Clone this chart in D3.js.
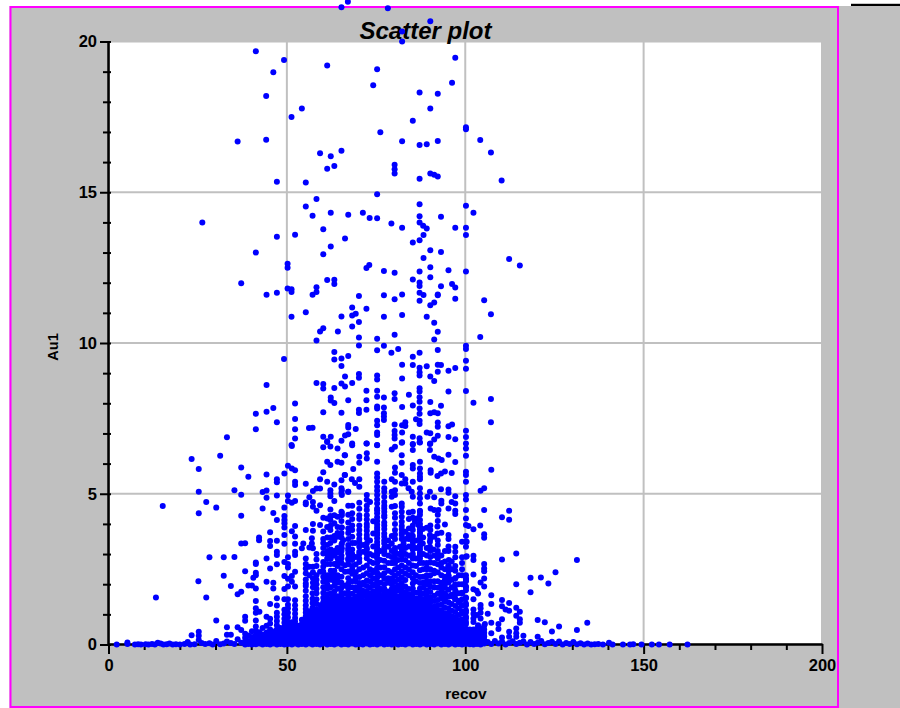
<!DOCTYPE html>
<html>
<head>
<meta charset="utf-8">
<script src="https://cdn.jsdelivr.net/npm/d3@7"></script>
<style>
  html, body { margin: 0; padding: 0; background: #fff; }
  svg { display: block; }
  text { font-family: "Liberation Sans", Arial, sans-serif; font-weight: bold; fill: #000; }
</style>
</head>
<body>
<svg id="chart" width="900" height="708"></svg>
<script>
// values: [recov, Au1]
var upperPoints = [[67.1,21.32],[65.3,21.14],[78.3,21.1],[90.2,20.67],[82.3,20.33],[82.3,20],[41.3,19.68],[49.2,19.39],[61.3,19.2],[46.2,18.98],[97.2,19.46],[75.3,19.08],[74.2,18.55],[96.3,18.63],[87.2,18.31],[92.3,18.27],[44.2,18.19],[54.2,17.78],[51.3,17.5],[90.2,17.78],[85.3,17.37],[100.2,17.16],[100.2,17.09],[76.2,16.99],[36.2,16.68],[44.2,16.74],[65.3,16.38],[59.3,16.29],[62.3,16.19],[61.3,15.78],[63.3,15.87],[104.2,16.73],[82.3,16.69],[87.2,16.57],[89.2,16.59],[92.3,16.7],[107.2,16.32],[80.2,15.91],[80.2,15.76],[80.2,15.62],[90.2,15.62],[91.3,15.58],[92.3,15.52],[87.2,15.45],[110.2,15.39],[47.2,15.35],[55.3,15.32],[75.3,14.93],[58.3,14.78],[87.2,14.6],[100.2,14.55],[55.3,14.53],[102.3,14.32],[71.3,14.32],[62.3,14.32],[67.2,14.25],[57.2,14.22],[73.2,14.15],[75.3,14.14],[87.2,14.2],[93.2,14.19],[87.2,14],[79.3,13.96],[88.2,13.89],[82.3,13.82],[89.2,13.8],[97.2,13.82],[100.2,13.82],[60.2,13.77],[26.3,14]];

var upperMiddlePoints = [[52.3,13.59],[47.2,13.52],[66.3,13.47],[62.3,13.2],[41.3,13],[60.2,12.94],[50.2,12.63],[50.2,12.5],[72.3,12.49],[73.1,12.59],[61.3,12.09],[63.3,12.1],[63.3,11.96],[37.2,11.98],[58.3,11.85],[50.2,11.81],[51.3,11.78],[51.3,11.69],[58.3,11.69],[57.2,11.6],[44.3,11.6],[47.2,11.67],[70.2,11.56],[68.3,11.18],[72.3,11.14],[69.3,10.97],[68.3,10.91],[65.3,10.88],[55.3,11.02],[51.3,10.87],[70.2,10.7],[68.3,10.55],[60.2,10.49],[59.3,10.38],[64.3,10.38],[70.2,10.18],[58.3,10.08],[70.2,9.92],[63.3,9.7],[63.3,9.45],[65.3,9.49],[67.2,9.57],[49.2,9.47],[65.3,9.24],[66.3,8.89],[70.2,8.97],[70.2,8.85],[58.3,8.67],[60.2,8.64],[60.2,8.49],[44.3,8.61],[63.3,8.51],[65.3,8.66],[66.3,8.56],[68.3,8.67],[72.3,8.42],[62.3,8.19],[62.3,8.09],[63.3,8.01],[67.2,8.1],[72.3,8.1],[52.3,7.99],[46.2,7.84],[44.3,7.72],[41.3,7.65],[60.2,7.7],[65.3,7.69],[70.2,7.79],[70.2,7.68],[72.3,7.79],[52.3,7.48],[47.2,7.37],[41.3,7.14],[52.3,7.14],[56.2,7.18],[57.2,7.19],[67.2,7.28],[67.2,7.2],[69.3,7.15],[33.2,6.87],[52.3,6.83],[60.2,6.89],[62.3,6.89],[61.3,6.74],[66.3,6.93],[67.2,6.97],[65.3,6.76],[68.3,6.67],[72.3,6.67],[51.3,6.62],
[100.2,13.58],[88.3,13.58],[87.2,13.41],[85.3,13.33],[90.2,13.08],[93.2,13.02],[88.3,12.82],[112.3,12.79],[115.3,12.57],[77.2,12.39],[80.2,12.33],[87.2,12.37],[90.2,12.51],[95.3,12.41],[100.2,12.37],[85.3,12.11],[90.2,12.18],[87.2,12.01],[87.2,11.89],[93.2,11.88],[96.3,11.96],[97.2,11.84],[87.2,11.67],[88.3,11.59],[92.3,11.61],[92.3,11.58],[82.3,11.61],[77.2,11.58],[80.2,11.45],[97.2,11.47],[105.3,11.42],[87.2,11.4],[91.3,11.34],[90.2,11.25],[107.2,10.95],[82.3,10.93],[77.2,10.87],[89.2,10.87],[91.3,10.67],[92.3,10.37],[80.2,10.27],[104.2,10.2],[75.3,10.14],[91.3,10.12],[100.2,9.91],[100.2,9.8],[77.2,9.91],[75.3,9.76],[81.2,9.8],[79.3,9.68],[87.2,9.68],[92.3,9.77],[85.3,9.54],[100.2,9.41],[82.3,9.28],[85.3,9.27],[89.2,9.23],[92.3,9.28],[93.2,9.27],[87.2,9.18],[97.2,9.17],[100.2,9.15],[95.3,9.08],[92.3,9.05],[87.2,9.03],[87.2,8.92],[75.3,8.92],[75.3,8.79],[82.3,8.82],[90.2,8.89],[91.3,8.74],[75.3,8.42],[87.2,8.5],[87.2,8.39],[95.3,8.39],[100.2,8.41],[80.2,8.33],[84.2,8.28],[75.3,8.22],[77.2,8.19],[80.2,8.14],[87.2,8.2],[87.2,8.05],[107.2,8.14],[102.3,8.02],[90.2,8.04],[85.3,7.93],[93.2,7.92],[82.3,7.88],[75.3,7.89],[75.3,7.83],[77.2,7.86],[87.2,7.83],[90.2,7.67],[91.3,7.7],[92.3,7.67],[77.2,7.67],[87.2,7.65],[77.2,7.56],[77.2,7.45],[86.2,7.47],[87.2,7.42],[87.2,7.31],[75.3,7.42],[75.3,7.27],[80.2,7.3],[82.3,7.27],[83.2,7.37],[83.2,7.25],[92.3,7.36],[92.3,7.22],[95.3,7.24],[96.3,7.3],[107.2,7.37],[100.2,7.09],[100.2,6.88],[75.3,7.03],[75.3,6.95],[80.2,7.08],[80.2,6.95],[80.2,6.83],[82.3,7.03],[89.2,7.03],[90.2,7.01],[92.3,6.92],[91.3,6.8],[85.3,6.89],[87.2,6.84],[87.2,6.71],[95.3,6.88],[97.2,6.81],[100.2,6.67],[75.3,6.62],[82.3,6.71],[85.3,6.65],[90.2,6.67]];

var leftLowerPoints = [[23.3,6.15],[31.3,6.26],[25.3,5.82],[37.2,5.87],[39.2,5.56],[50.3,5.93],[51.4,5.84],[52.3,5.78],[49.3,5.67],[44.3,5.64],[47.2,5.48],[47.2,5.38],[52.3,5.4],[52.3,5.29],[55.3,5.33],[51.4,6.58],[59.3,5.48],[60.2,5.71],[61.3,5.4],[63.3,5.31],[65.3,5.45],[60.2,6.54],[61.3,6.72],[62.2,6.57],[64.2,6.5],[66.2,6.28],[61.3,6.06],[62.2,5.95],[64.2,6.06],[65.3,6.03],[66.2,5.62],[25.3,5.07],[35.3,5.12],[37.2,4.97],[43.2,5.06],[44.3,5.11],[44.3,4.87],[47.2,4.94],[50.3,4.94],[50.3,4.76],[51.4,4.7],[52.3,4.76],[55.3,4.71],[55.3,4.65],[57.3,5.09],[58.3,5.17],[59.3,5.17],[62.2,5.12],[62.2,5.01],[62.2,4.92],[65.3,5.18],[65.3,5.03],[67.2,5.07],[56.3,4.88],[57.3,4.73],[57.3,4.57],[58.3,4.44],[59.3,4.62],[63.3,4.76],[62.2,4.48],[15.2,4.59],[27.4,4.73],[30.2,4.54],[25.3,4.35],[43.2,4.51],[46.2,4.36],[49.3,4.54],[37.2,4.27],[47.2,4.13],[49.3,4.26],[49.3,4.13],[49.3,4.02],[49.3,3.88],[45.3,3.72],[52.3,3.93],[51.4,3.76],[49.3,3.63],[55.3,3.8],[57.3,4],[59.3,3.96],[60.2,4.2],[61.3,4.18],[62.2,4.13],[63.3,4.29],[64.2,4.24],[65.3,4.4],[62.2,4.26],[62.2,3.8],[63.3,4.02],[64.2,3.9],[65.3,3.88],[57.3,3.77],[64.2,3.57],[65.8,3.46],[42.2,3.55],[42.2,3.46],[47.2,3.44],[45.3,3.43],[45.3,3.27],[49.3,3.34],[52.3,3.58],[52.3,3.34],[57,3.52],[57,3.35],[54.6,3.35],[56.3,3.22],[54.2,3.19],[57.3,3.19],[61.3,3.1],[60.2,3.37],[62.2,3.37],[60.2,3.02],[37.2,3.35],[38.3,3.36],[47.2,3.08],[47.2,2.97],[52.3,3.08],[52.3,2.97],[28.3,2.89],[32.3,2.89],[35.3,2.9],[44.3,2.85],[50.3,2.89],[49.3,2.74],[50.3,2.67],[41.3,2.72],[41.3,2.67],[47.2,2.66],[45.3,2.52],[55.3,2.85],[55.3,2.67],[55.3,2.52],[56.3,2.58],[58.3,2.82],[60.2,2.74],[61.3,2.67],[63.3,2.67],[64.2,2.85],[65.3,2.85],[67.2,3.13],[67.2,2.85],[66.3,2.63],[50.3,2.55],[41.3,2.38],[41.3,2.3],[38.3,2.43],[52.3,2.41],[55.3,2.16],[56.3,2.3],[57.3,2.58],[59.3,2.41],[62.2,2.67],[63.3,2.3],[64.2,2.3],[66.3,2.41],[25.2,2.1],[32.3,2.28],[40.6,2.21],[49.3,2.27],[50.3,2.18],[51.4,2.27],[51.4,2.08],[44.3,2.08],[46.2,2.05],[34.3,1.94],[39.2,1.96],[40.2,1.96],[41.3,1.86],[37.2,1.75],[36.2,1.67],[46.2,1.86],[49.3,1.84],[50.3,1.92],[52.3,1.92],[13.3,1.56],[27.4,1.56],[47.2,1.53],[41.3,1.44],[50.3,1.5],[52.3,1.47],[45.3,1.34],[47.2,1.29],[49.3,1.5],[41.3,1.2],[41.3,1.05],[42.3,1.09],[44.3,.92],[38.3,.92],[38.3,.79],[30.2,.8],[33.2,.57],[36.2,.57],[37.2,.48],[25.3,.42],[25.3,.29],[23.3,.31],[33.2,.32],[34.3,.32]];

var rightLowerPoints = [[107.3,5.8],[100.2,6.5],[100.2,6.26],[100.2,5.73],[100.2,5.62],[100.2,5.4],[100.2,4.96],[100.2,4.81],[100.2,4.46],[100.2,4.18],[100.2,3.96],[100.2,3.6],[100.2,3.41],[100.2,3.24],[100.2,2.91],[100.2,2.3],[100.2,2.16],[100.2,1.92],[100.2,1.8],[100.2,1.53],[100.2,1.36],[100.2,1.14],[100.2,.92],[100.2,.75],[105.3,5.18],[104.3,5.1],[105.3,4.46],[112.3,4.44],[110.3,4.22],[112.3,4.14],[102.3,3.82],[100.9,3.93],[104.2,3.95],[105.3,3.66],[105.3,3.54],[110.3,2.82],[114.3,3.02],[131.3,2.8],[102.3,2.94],[102.3,2.8],[105.3,2.67],[105.3,2.52],[105.3,2.43],[102.3,2.32],[125.3,2.4],[118.3,2.21],[121.2,2.22],[123.3,2.02],[114.3,2],[118.3,1.73],[105.3,2.19],[104.3,2.06],[105.3,1.92],[102.3,1.83],[103.2,1.78],[103.6,1.69],[107.3,1.63],[107.3,1.34],[110.3,1.48],[112.3,1.38],[110.3,1.27],[111.3,1.16],[112.3,1.12],[104.3,1.31],[114.3,1.22],[115.3,1.09],[114.3,.95],[115.3,.84],[115.3,.72],[102.3,1.16],[104.3,1.05],[103.3,.98],[106.3,1.02],[110.3,.84],[109.3,.68],[107.3,.72],[120.3,.81],[122.3,.74],[134.2,.72],[126.3,.6],[131.3,.48],[124.3,.43],[109.3,.51],[102.3,.75],[103.6,.64],[105.5,.68],[105.3,.39],[105.3,.26],[107.3,.37],[112.3,.42],[112.3,.26],[114.3,.53],[114.3,.37],[114.3,.26],[116.3,.29],[120.3,.26],[110.3,.23],[103.3,.42],
[68.3,6.61],[72.4,6.67],[75.3,6.61],[79.4,6.47],[80.3,6.56],[82.2,6.69],[85.3,6.63],[85.3,6.45],[87.3,6.7],[90.1,6.65],[90.1,6.45],[66.3,6.28],[70.3,6.23],[70.3,6.03],[72.4,6.34],[72.4,6.17],[75.3,6.06],[82.2,6.28],[82.2,6.03],[91.3,6.23],[92.5,6.17],[93.4,6.12],[95.3,6.29],[97.2,6.05],[85.3,5.95],[85.3,5.84],[87.3,6.06],[87.3,5.84],[68.6,5.82],[80.3,5.87],[80.3,5.7],[90.3,5.78],[90.3,5.7],[92.2,5.59],[93.2,5.67],[94.3,5.74],[96.2,5.69],[66.3,5.62],[75.3,5.67],[75.3,5.54],[75.3,5.4],[75.3,5.23],[82.2,5.62],[83.2,5.48],[82.2,5.34],[83.2,5.34],[85.3,5.4],[87.3,5.67],[87.3,5.56],[87.3,5.48],[87.3,5.18],[87.3,5.01],[68.2,5.48],[70.3,5.48],[69.1,5.36],[70.3,5.23],[77.3,5.4],[77.3,5.18],[77.3,5.07],[79.4,5.48],[80.3,5.4],[79.4,5.07],[80.3,4.96],[79.4,4.9],[80.3,5.12],[84.1,5.18],[85,5.07],[85.3,4.9],[90.1,5.07],[93.2,5.15],[95.3,5.14],[95.3,5.03],[97.2,4.92],[72.4,4.96],[73.3,4.73],[67.2,5.07],[65.4,5.12],[65.4,4.96],[75.3,5.1],[75.3,4.96],[75.3,4.81],[75.3,4.68],[75.3,4.51],[77.3,4.9],[77.3,4.73],[77.3,4.51],[77.3,4.29],[77.3,4.22],[82.2,4.68],[82.2,4.57],[80.3,4.59],[79.4,4.57],[87.3,4.85],[87.3,4.68],[87.3,4.44],[87.3,4.4],[89.4,4.9],[91.3,4.88],[90.3,4.51],[91.3,4.46],[92.5,4.46],[93.3,4.77],[93.3,4.68],[95.3,4.51],[96.2,4.73],[97.2,4.68],[97.2,4.44],[97.2,4.33],[65.4,4.37],[65.4,4.29],[68.3,4.16],[70.3,4.29],[70.3,4.16],[72.4,4.46],[72.4,4.29],[72.4,4.15],[74.2,4.09],[75.3,4.22],[82.2,4.4],[82.2,4.24],[82.2,4.07],[82.2,3.93],[84.2,4.38],[84.2,4.16],[86.4,4.18],[87.3,4.13],[85.9,4.07],[86.9,3.96],[94.3,3.98],[92.2,3.91],[89.2,3.87],[88.1,3.83],[87.3,3.74],[65.4,3.88],[75.3,3.88],[75.3,3.8],[77.3,3.83],[77.3,3.68],[77.3,3.57],[70.3,3.65],[72.4,3.77],[72.4,3.63],[72.4,3.52],[74.2,3.68],[75.3,3.63],[75.3,3.52],[68.3,3.57],[68.3,3.37],[69.1,3.37],[82.2,3.82],[82.2,3.63],[83.2,3.74],[84.1,3.63],[85,3.63],[85.3,3.46],[87.3,3.82],[87.3,3.57],[87.3,3.46],[88.1,3.35],[90.1,3.63],[90.1,3.41],[91.3,3.57],[92.2,3.68],[93.3,3.71],[95.3,3.63],[95.3,3.5],[65.4,3.35],[65.4,3.19],[70.3,3.24],[70.3,3.08],[71.4,3.08],[67.2,3.19],[67.2,3.02],[67.7,2.91],[72.4,3.35],[75.3,3.3],[75.3,3.13],[79.4,3.35],[78.5,3.24],[81.7,3.24],[82.7,3.35],[82.7,3.22],[82.7,3.02],[80.3,3.02],[80.3,2.85],[85.3,3.41],[87.3,3.24],[87.3,3.15],[90.1,3.24],[91.1,3.15],[97.2,3.24],[97.2,3.08],[99.1,3.41],[100.4,3.41],[99.1,2.89],[100.4,2.93],[95.4,2.8],[95.3,2.45],[97.2,2.89]];

var floorPoints = [[2.3,0],[5.3,.02],[5.3,.07],[7.4,0],[8.3,.01],[9.1,0],[10.4,.01],[11.2,0],[12.2,.02],[13,0],[13.8,.06],[14.6,.03],[15.4,0],[16.3,.01],[17.1,.03],[18,0],[18.9,.01],[20,0],[21.3,.02],[22.2,.08],[22.9,0],[24.1,.01],[25.3,.15],[26.1,.05],[27.1,.02],[28.3,.04],[29.2,0],[30.2,.12],[31.3,.01],[32.3,.03],[33.2,.1],[34.3,.05],[35.3,.02],[36.2,.17],[37.2,.06],[106.3,.08],[107.3,.02],[108.3,.12],[109.3,.03],[110.3,.1],[111.3,0],[112.3,.05],[113.3,.11],[114.3,.02],[115.3,.06],[116.3,.1],[117.3,0],[118.3,.08],[119.3,.02],[120.3,.06],[121.3,.12],[122.3,.01],[123.3,.05],[124.3,.09],[125.3,.02],[126.3,.1],[127.3,0],[128.3,.05],[129.3,.02],[130.3,.08],[131.3,.01],[132.3,.04],[133.3,0],[134.3,.03],[135.3,0],[136.3,.01],[137.3,.02],[138.6,0],[140.3,.06],[141.3,0],[144.2,0],[146.2,0],[147.1,.01],[149.4,0],[152.3,0],[154.3,0],[157.3,0],[162.3,0]];

// the solid mass along the bottom, stacked per recov value
var columnRecov = [38.3,39.2,40.2,41.3,42.3,43.2,44.3,45.3,46.2,47.2,48.2,49.3,50.3,51.4,52.3,53.2,54.2,55.3,56.3,57.2,58.3,59.3,60.2,61.3,62.3,63.3,64.2,65.3,66.3,67.2,68.3,69.3,70.3,71.3,72.4,73.3,74.2,75.3,76.2,77.3,78.3,79.4,80.3,81.2,82.2,83.2,84.2,85.3,86.3,87.3,88.2,89.2,90.2,91.3,92.3,93.3,94.3,95.3,96.2,97.2,98.2,99.1,100.2,101.3,102.3,103.3,104.3,105.3];

var columnAu1 = [
  [0,.1,.22,.36],
  [.02,.12,.3],
  [0,.14,.25,.44],
  [.01,.1,.2,.31,.46,.6,.8],
  [.03,.15,.28,.41],
  [0,.09,.2,.33,.55],
  [.02,.12,.24,.4,.62],
  [0,.1,.22,.35,.5,.7,.85],
  [.03,.14,.27,.43],
  [0,.12,.24,.37,.5,.64,.78,.92,1.05],
  [.02,.14,.26,.4,.55],
  [0,.1,.22,.34,.46,.58,.72,.85,1,1.15],
  [.02,.14,.26,.38,.5,.62,.75,.9,1.05,1.2,1.32],
  [0,.12,.24,.36,.48,.6,.74],
  [.03,.15,.27,.39,.51,.63,.76,.88,1.02,1.16,1.3],
  [0,.12,.25,.38,.5,.62],
  [.02,.14,.26,.4,.54,.68,.82],
  [0,.1,.22,.34,.46,.58,.7,.82,.94,1.06,1.18,1.3,1.45,1.6,1.78,1.94],
  [.03,.15,.27,.4,.53,.66,.8,.95,1.1],
  [0,.12,.24,.36,.5,.64,.78,.92,1.06,1.22,1.38,1.52,1.7],
  [.02,.14,.26,.38,.5,.62,.76,.9,1.02,1.16,1.34,1.5,1.7,1.85],
  [0,.12,.24,.36,.48,.6,.72,.86,1,1.14,1.3],
  [.03,.15,.27,.39,.51,.63,.75,.87,.99,1.12,1.25,1.4,1.55,1.72,1.9,2.08],
  [0,.12,.24,.36,.48,.6,.72,.84,.96,1.08,1.2,1.34,1.5,1.66],
  [.02,.14,.26,.38,.5,.62,.74,.86,.98,1.1,1.22,1.36,1.52,1.7,1.9,2.15],
  [0,.12,.24,.36,.48,.6,.72,.84,.96,1.08,1.2,1.32,1.46,1.6,1.75,1.95],
  [.03,.15,.27,.39,.51,.63,.75,.87,.99,1.11,1.25,1.42,1.6,1.85],
  [0,.12,.24,.36,.48,.6,.72,.84,.96,1.08,1.2,1.32,1.44,1.58,1.72,1.88,2.05,2.25,2.5],
  [.02,.14,.26,.38,.5,.62,.74,.86,.98,1.1,1.22,1.36,1.5,1.7,1.95],
  [0,.12,.24,.36,.48,.6,.72,.84,.96,1.08,1.2,1.32,1.44,1.56,1.7,1.86,2.02,2.2,2.42,2.66],
  [.03,.15,.27,.39,.51,.63,.75,.87,.99,1.11,1.23,1.35,1.5,1.68,1.9,2.1,2.35],
  [0,.12,.24,.36,.48,.6,.72,.84,.96,1.08,1.2,1.32,1.45,1.6,1.8,2.22],
  [.02,.14,.26,.38,.5,.62,.74,.86,.98,1.1,1.22,1.34,1.46,1.58,1.72,1.88,2.04,2.24,2.5,2.74],
  [0,.12,.24,.36,.48,.6,.72,.84,.96,1.08,1.2,1.32,1.44,1.6,1.78,1.98],
  [.03,.15,.27,.39,.51,.63,.75,.87,.99,1.11,1.23,1.35,1.47,1.6,1.76,1.94,2.12,2.36,2.62,2.86],
  [0,.12,.24,.36,.48,.6,.72,.84,.96,1.08,1.2,1.32,1.44,1.56,1.7,1.9,2.1],
  [.02,.14,.26,.38,.5,.62,.74,.86,.98,1.1,1.22,1.34,1.46,1.6,1.76,2,2.45],
  [0,.12,.24,.36,.48,.6,.72,.84,.96,1.08,1.2,1.32,1.44,1.56,1.68,1.8,1.94,2.08,2.22,2.38,2.54,2.7,2.86,2.98],
  [.03,.15,.27,.39,.51,.63,.75,.87,.99,1.11,1.23,1.35,1.47,1.62,1.8],
  [0,.12,.24,.36,.48,.6,.72,.84,.96,1.08,1.2,1.32,1.44,1.56,1.7,1.85,2,2.18,2.36,2.56,2.78,3],
  [.02,.14,.26,.38,.5,.62,.74,.86,.98,1.1,1.22,1.34,1.46,1.6,1.76,2.05],
  [0,.12,.24,.36,.48,.6,.72,.84,.96,1.08,1.2,1.32,1.44,1.56,1.7,1.84,2,2.16,2.4,2.7],
  [.03,.15,.27,.39,.51,.63,.75,.87,.99,1.11,1.23,1.35,1.47,1.59,1.74,1.9,2.08,2.28,2.5],
  [0,.12,.24,.36,.48,.6,.72,.84,.96,1.08,1.2,1.32,1.44,1.6,1.8],
  [.02,.14,.26,.38,.5,.62,.74,.86,.98,1.1,1.22,1.34,1.46,1.58,1.72,1.88,2.04,2.22,2.42,2.62,2.82],
  [0,.12,.24,.36,.48,.6,.72,.84,.96,1.08,1.2,1.32,1.44,1.58,1.74,1.92,2.14],
  [.03,.15,.27,.39,.51,.63,.75,.87,.99,1.11,1.23,1.35,1.5,1.66,1.84,2.3],
  [0,.12,.24,.36,.48,.6,.72,.84,.96,1.08,1.2,1.32,1.44,1.56,1.7,1.86,2.02,2.2,2.4,2.62,2.9],
  [.02,.14,.26,.38,.5,.62,.74,.86,.98,1.1,1.22,1.36,1.52,1.72],
  [0,.12,.24,.36,.48,.6,.72,.84,.96,1.08,1.2,1.32,1.44,1.56,1.7,1.86,2.04,2.24,2.46,2.7,2.94],
  [.03,.15,.27,.39,.51,.63,.75,.87,.99,1.11,1.23,1.35,1.5,1.68,1.88],
  [0,.12,.24,.36,.48,.6,.72,.84,.96,1.08,1.2,1.32,1.46,1.62,1.8,2,2.26,2.55],
  [.02,.14,.26,.38,.5,.62,.74,.86,.98,1.1,1.24,1.4,1.56,1.74,1.92,2.1,2.3,2.5,2.72],
  [0,.12,.24,.36,.48,.6,.72,.84,.96,1.1,1.26,1.44,1.62,1.9,2.36],
  [.03,.15,.27,.39,.51,.63,.75,.87,1,1.14,1.3,1.48,1.68,1.88,2.1,2.4,2.66],
  [0,.12,.24,.36,.48,.6,.72,.84,.98,1.14,1.32,1.52,1.74,2,2.7],
  [.02,.14,.26,.38,.5,.62,.74,.88,1.04,1.22,1.42,1.64,1.88,2.14],
  [0,.12,.24,.36,.48,.6,.72,.86,1.02,1.2,1.4,1.6,1.82,2.06,2.26,2.6],
  [.03,.15,.27,.39,.51,.64,.78,.94,1.12,1.34,1.6],
  [0,.12,.24,.36,.48,.6,.74,.9,1.08,1.28,1.5,1.72,1.96,2.2],
  [.02,.14,.26,.38,.5,.64,.8,.98,1.2,1.45],
  [0,.12,.24,.36,.5,.66,.84,1.04,1.3,1.72],
  [.02,.14,.26,.38,.52,.68,.86,1.06,1.3,1.56,1.9,2.1,2.2],
  [.01,.12,.24,.36,.5],
  [0,.12,.24,.36,.5,.86,1.02,1.5],
  [.02,.14,.26,.38,.52],
  [0,.12,.24,.36,.52,.86,1.2],
  [.03,.15,.28,.5,.62]
];

// the broken stripes above the solid mass
var stripeRecov = [55.3,57.3,58.3,60.2,61.3,62.3,63.3,64.2,65.3,67.2,68.3,69.3,70.3,71.4,72.4,73.3,74.2,75.3,76.2,77.3,78.4,79.4,80.3,81.2,82.2,83.2,84.2,85.3,86.2,87.3,88.2,89.2,90.2,91.3,92.3,93.3,94.3,95.3,96.2,97.2,98.2,99.1];

var stripeAu1 = [
  [2.02,2.36],
  [1.9,2.05,2.2,2.4],
  [2,2.15,2.3,2.6,3],
  [2.25,2.42,2.58,3.2,3.5,3.75],
  [1.85,2,2.15,2.3,2.85,3,3.3,3.55,3.9],
  [2.3,2.45,2.85,3,3.15,3.55,3.95],
  [2.1,2.25,2.45,2.95,3.1,3.45,3.6],
  [2.05,2.15,2.6,2.7,3.05,3.2,3.7],
  [2.7,2.95,3.1,3.3,3.55,3.7,4.1],
  [2.8,3.3,3.5,3.7,3.85,4.05,4.3,4.6],
  [2.5,2.6,2.8,3,3.15,3.8,3.95,4.35,4.6],
  [1.9,2.1,2.4,2.65,2.9],
  [2.85,3,3.4,3.5,3.8,3.95,4.5,4.7],
  [1.75,2.05,2.3,2.55,3.3],
  [3,3.15,3.2,3.9,4,4.6,4.8],
  [2.3,2.5,2.75,3,3.45],
  [1.95,2.2,2.4,2.7,2.95,3.25],
  [3.05,3.2,3.4,3.7,3.98,4.1,4.35,4.45],
  [1.85,2.05,2.3,2.55,2.8,3.1],
  [3.1,3.2,3.35,3.45,3.95,4.05,4.4,4.6],
  [2.2,2.45,2.7,2.95,3.45],
  [2.9,2.7,2.2,3.1,3.6],
  [2.7,3.1,3.2,3.5,3.65,3.8,4,4.2,4.35],
  [1.95,2.15,2.35,2.55,2.8,3],
  [2.95,3.05,3.15,3.5,3.7],
  [2.35,2.55,2.8,3,3.2,3.5],
  [2.5,2.7,2.95,3.25,3.5,3.85],
  [2.85,3,3.15,3.3,3.6,3.8,3.95,4.2,4.4],
  [2.1,2.3,2.6,2.85,3.2,3.45],
  [2.85,3,3.05,3.3,3.6,3.7,3.9,4,4.3],
  [2.05,2.25,2.5,2.7,3,3.55],
  [2.1,2.3,2.5,2.7,2.95,3.2],
  [2.9,3.1,3.5,3.8,3.95],
  [1.9,2.1,2.45,2.7,2.95],
  [2.85,3,3.1,3.3,3.45,4.1,4.3],
  [1.6,1.85,2.05,2.3,2.55,2.95],
  [1.5,1.7,2,2.25,2.5,2.75,3.1],
  [2.1,2.3,2.6,3.1,3.25],
  [1.65,1.9,2.15,2.5,2.75],
  [1.5,1.65,1.8,2,2.2,2.45,2.6],
  [1.4,1.7,2,2.3],
  [1.1,1.3,1.5,1.7,2,2.3,2.5,2.7]
];

var xMajorTicks = [0, 50, 100, 150, 200];
var yMajorTicks = [0, 5, 10, 15, 20];
var xMinorTicks = [10, 20, 30, 40, 60, 70, 80, 90, 110, 120, 130, 140, 160, 170, 180, 190];
var yMinorTicks = [1, 2, 3, 4, 6, 7, 8, 9, 11, 12, 13, 14, 16, 17, 18, 19];

var svg = d3.select("#chart");

var x = d3.scaleLinear().domain([0, 200]).range([108.5, 822]);
var y = d3.scaleLinear().domain([0, 20]).range([644.5, 41.5]);

// page background, frame
svg.append("rect").attr("x", 9.5).attr("y", 6).attr("width", 890.5).attr("height", 702).style("fill", "#c0c0c0");
svg.append("rect").attr("x", 851).attr("y", 3).attr("width", 49).attr("height", 1).style("fill", "#c8c8c8");
svg.append("rect").attr("x", 851).attr("y", 4).attr("width", 49).attr("height", 2).style("fill", "#000");
svg.append("rect").attr("x", 110).attr("y", 42).attr("width", 712).attr("height", 602).style("fill", "#fff");

// grid
svg.append("g").selectAll("line").data(xMajorTicks.slice(1)).join("line")
  .attr("x1", d => x(d)).attr("x2", d => x(d))
  .attr("y1", 42).attr("y2", 646)
  .style("stroke", "#c0c0c0").style("stroke-width", 2);
svg.append("g").selectAll("line").data(yMajorTicks).join("line")
  .attr("x1", 110).attr("x2", 823)
  .attr("y1", d => y(d)).attr("y2", d => y(d))
  .style("stroke", "#c0c0c0").style("stroke-width", 2);

svg.append("rect").attr("x", 10.5).attr("y", 7).attr("width", 827.5).attr("height", 700)
  .style("fill", "none").style("stroke", "#ff00ff").style("stroke-width", 2);

// axes
var xAxis = svg.append("g").attr("transform", "translate(0,644)")
  .call(d3.axisBottom(x).tickValues(xMajorTicks).tickSize(10).tickSizeOuter(0).tickPadding(5).tickFormat(d3.format("d")));
var xMinor = svg.append("g").attr("transform", "translate(0,644)")
  .call(d3.axisBottom(x).tickValues(xMinorTicks).tickSize(6).tickSizeOuter(0).tickFormat(""));
var yAxis = svg.append("g").attr("transform", "translate(108,0)")
  .call(d3.axisLeft(y).tickValues(yMajorTicks).tickSize(8).tickSizeOuter(0).tickPadding(3).tickFormat(d3.format("d")));
var yMinor = svg.append("g").attr("transform", "translate(108,0)")
  .call(d3.axisLeft(y).tickValues(yMinorTicks).tickSize(5).tickSizeOuter(0).tickFormat(""));

svg.selectAll(".domain").style("stroke", "#000").style("stroke-width", 2);
svg.selectAll(".tick line").style("stroke", "#000").style("stroke-width", 2);
yAxis.selectAll(".tick line").attr("x1", 3);
yMinor.selectAll(".tick line").attr("x1", 3);
svg.selectAll(".tick text").style("font-family", '"Liberation Sans", Arial, sans-serif').style("font-weight", "bold").style("font-size", "16.5px").style("fill", "#000");

// titles
svg.append("text").attr("x", 425.5).attr("y", 38.5).attr("text-anchor", "middle")
  .style("font-size", "24px").style("font-style", "italic").text("Scatter plot");
svg.append("text").attr("x", 466).attr("y", 699).attr("text-anchor", "middle")
  .style("font-size", "15.5px").text("recov");
svg.append("text").attr("transform", "translate(58,347) rotate(-90)").attr("text-anchor", "middle")
  .style("font-size", "14.5px").text("Au1");

// all points, not clipped to the plot area
var points = [].concat(upperPoints, upperMiddlePoints, leftLowerPoints, rightLowerPoints, floorPoints);
columnRecov.forEach(function(r, i) {
  columnAu1[i].forEach(function(a) { points.push([r, a]); });
});
stripeRecov.forEach(function(r, i) {
  stripeAu1[i].forEach(function(a) { points.push([r, a]); });
});

svg.append("g").selectAll("circle").data(points).join("circle")
  .attr("cx", d => x(d[0]))
  .attr("cy", d => y(d[1]))
  .attr("r", 3)
  .style("fill", "#0000ff");
</script>
</body>
</html>
